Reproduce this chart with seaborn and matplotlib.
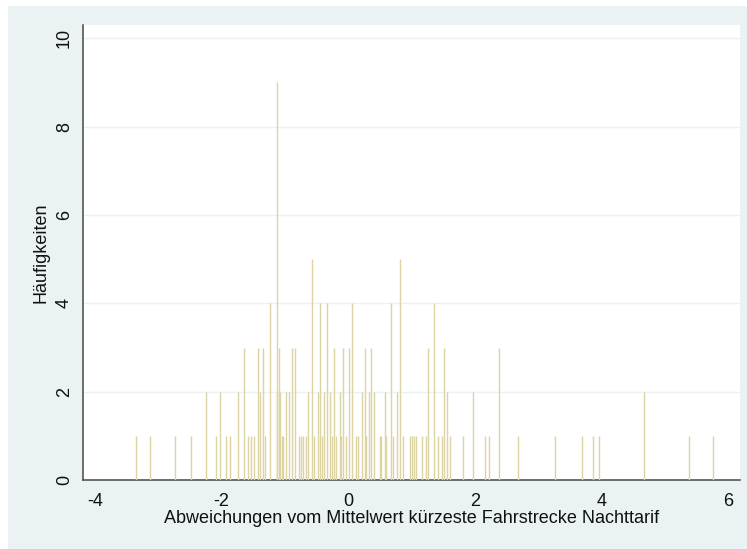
import matplotlib
matplotlib.use('Agg')
import matplotlib.pyplot as plt
import seaborn as sns
from matplotlib.patches import Rectangle

# spike positions (deviation from mean) and their frequencies
werte = [-3.35, -3.13, -2.73, -2.48, -2.25, -2.09, -2.03, -1.93, -1.87, -1.74,
         -1.64, -1.58, -1.54, -1.48, -1.42, -1.39, -1.34, -1.31, -1.23, -1.13,
         -1.12, -1.09, -1.07, -1.05, -1.03, -0.98, -0.94, -0.89, -0.84, -0.77,
         -0.74, -0.71, -0.67, -0.64, -0.58, -0.54, -0.48, -0.44, -0.42, -0.39,
         -0.33, -0.29, -0.25, -0.23, -0.20, -0.13, -0.11, -0.09, -0.04, 0.01,
         0.06, 0.12, 0.16, 0.22, 0.26, 0.28, 0.32, 0.36, 0.41, 0.50,
         0.52, 0.58, 0.60, 0.67, 0.70, 0.77, 0.81, 0.87, 0.97, 1.00,
         1.04, 1.07, 1.16, 1.22, 1.26, 1.36, 1.41, 1.48, 1.51, 1.56,
         1.61, 1.81, 1.97, 2.16, 2.22, 2.38, 2.67, 3.26, 3.69, 3.86,
         3.96, 4.67, 5.37, 5.76]
haeufigkeit = [1, 1, 1, 1, 2, 1, 2, 1, 1, 2,
               3, 1, 1, 1, 3, 2, 3, 1, 4, 2,
               9, 3, 2, 1, 1, 2, 2, 3, 3, 1,
               1, 1, 1, 2, 5, 1, 2, 4, 1, 2,
               4, 2, 1, 3, 1, 2, 1, 3, 1, 3,
               4, 1, 1, 2, 3, 1, 2, 3, 2, 1,
               1, 2, 1, 4, 1, 2, 5, 1, 1, 1,
               1, 1, 1, 1, 3, 4, 1, 1, 3, 2,
               1, 1, 2, 1, 1, 3, 1, 1, 1, 1,
               1, 2, 1, 1]
x_ticks = [-4, -2, 0, 2, 4, 6]
y_ticks = [0, 2, 4, 6, 8, 10]

BG = '#EAF2F3'
SPIKE = '#DCD4A3'

sns.set_style('white')
plt.rcParams['font.family'] = ['Liberation Sans', 'DejaVu Sans']
plt.rcParams['axes.unicode_minus'] = False

fig = plt.figure(figsize=(7.47, 5.49), dpi=100)
fig.patch.set_facecolor('white')
fig.add_artist(Rectangle((8 / 747, 0), 1, 543 / 549, transform=fig.transFigure,
                         facecolor=BG, edgecolor='none', zorder=-5))

ax = fig.add_axes([0.1107, 0.1251, 0.8799, 0.8294])
ax.set_zorder(2)
ax.set_facecolor('white')

ax.vlines(werte, 0, haeufigkeit, colors=SPIKE, linewidth=1.0, zorder=3)

ax.set_xlim(-4.19, 6.18)
ax.set_ylim(0, 10.3)
ax.set_xticks(x_ticks)
ax.set_yticks(y_ticks)
for t in y_ticks[1:]:
    ax.axhline(t, color=BG, linewidth=1.0, zorder=1)

for s in ['top', 'right']:
    ax.spines[s].set_visible(False)
for s in ['left', 'bottom']:
    ax.spines[s].set_color('#555555')
    ax.spines[s].set_linewidth(1.2)

ax.tick_params(axis='both', direction='out', length=5, width=1.2, color='#555555',
               labelsize=13, labelcolor='#111111')
ax.tick_params(axis='x', pad=4)
ax.tick_params(axis='y', labelrotation=90, pad=2)
for lbl in ax.get_yticklabels():
    lbl.set_va('center')

ax.set_xlabel('Abweichungen vom Mittelwert kürzeste Fahrstrecke Nachttarif',
              fontsize=13, color='#111111', labelpad=0)
ax.set_ylabel('Häufigkeiten', fontsize=13, color='#111111', labelpad=5)

plt.savefig('out.png', dpi=100, facecolor=fig.get_facecolor())
